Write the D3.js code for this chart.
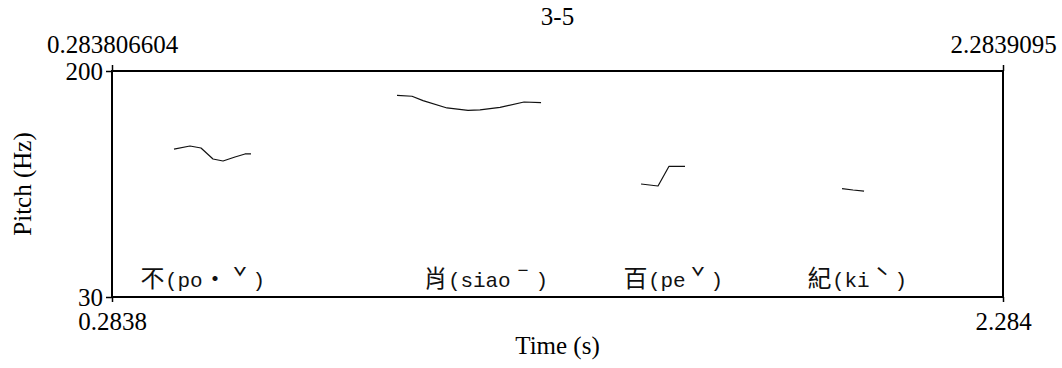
<!DOCTYPE html>
<html>
<head>
<meta charset="utf-8">
<script src="https://cdn.jsdelivr.net/npm/d3@7"></script>
<style>
  html, body { margin: 0; padding: 0; background: #fff; }
  svg { display: block; }
</style>
</head>
<body>
<svg id="chart" width="1062" height="368"></svg>
<script>
// Time window of the selection (s) and pitch range (Hz)
const timeRange = [0.283806604, 2.2839095];
const pitchRange = [30, 200];
const topTickValues = [0.283806604, 2.2839095];
const bottomTickValues = [0.283806604, 2.2839095];
const pitchTickValues = [30, 200];
const chartTitle = "3-5";

// Pitch contours, one per voiced syllable: [time (s), F0 (Hz)]
const buPitch = [
  [0.4230, 141.3], [0.4589, 143.6], [0.4836, 142.1], [0.5105, 133.8],
  [0.5330, 132.3], [0.5599, 135.3], [0.5824, 137.6], [0.5958, 137.6]
];
const xiaoPitch = [
  [0.9236, 181.7], [0.9573, 181.0], [0.9820, 177.7], [1.0358, 172.2],
  [1.0830, 170.4], [1.1099, 170.7], [1.1548, 172.7], [1.2087, 176.7],
  [1.2469, 176.2]
];
const baiPitch = [
  [1.4714, 115.0], [1.5095, 113.5], [1.5342, 128.3], [1.5701, 128.3]
];
const jiPitch = [
  [1.9226, 111.5], [1.9473, 110.5], [1.9720, 109.7]
];
const contours = [buPitch, xiaoPitch, baiPitch, jiPitch];

// Syllable annotations and the times where they start
const syllableLabels = ["不(po・ˇ)", "肖(siaoˉ)", "百(peˇ)", "紀(kiˋ)"];
const syllableTimes = [0.3467, 0.9820, 1.4309, 1.8440];
const syllablePitch = [37.5, 37.5, 37.5, 37.5];

const margin = { left: 112, right: 59, top: 71, bottom: 71 };
const W = 1062, H = 368;
const innerW = W - margin.left - margin.right;
const innerH = H - margin.top - margin.bottom;

const svg = d3.select("#chart");
const serif = "'Liberation Serif', 'Times New Roman', serif";
const fontSize = 25;

const x = d3.scaleLinear().domain(timeRange).range([margin.left, margin.left + innerW]);
const y = d3.scaleLinear().domain(pitchRange).range([margin.top + innerH, margin.top]);

// Pitch curves
const line = d3.line().x(d => x(d[0])).y(d => y(d[1]));
svg.append("g")
  .selectAll("path")
  .data(contours)
  .join("path")
  .attr("d", line)
  .attr("fill", "none")
  .attr("stroke", "#111")
  .attr("stroke-width", 1.2)
  .attr("stroke-linejoin", "round");

// Syllable labels laid out on a full/half-width character grid
const fullCell = 25, halfCell = 12.5;
const isWide = ch => ch.charCodeAt(0) > 0x2c0;
const labelG = svg.append("g");
syllableLabels.forEach((lab, i) => {
  const t = labelG.append("text")
    .attr("y", y(syllablePitch[i]))
    .attr("fill", "#111");
  let cx = x(syllableTimes[i]);
  Array.from(lab).forEach(ch => {
    const w = isWide(ch) ? fullCell : halfCell;
    t.append("tspan")
      .attr("x", cx + w / 2)
      .attr("text-anchor", "middle")
      .attr("font-family", isWide(ch) ? "'Noto Sans CJK TC', sans-serif" : "'Liberation Mono', monospace")
      .attr("font-size", isWide(ch) ? 24 : 21)
      .text(ch);
    cx += w;
  });
});

// Frame
svg.append("rect")
  .attr("x", margin.left).attr("y", margin.top)
  .attr("width", innerW).attr("height", innerH)
  .attr("fill", "none").attr("stroke", "#000").attr("stroke-width", 2);

function styleAxis(g) {
  g.select(".domain").remove();
  g.selectAll(".tick line").attr("stroke", "#000").attr("stroke-width", 1.5);
  g.selectAll("text").attr("font-family", serif).attr("font-size", fontSize).attr("fill", "#000");
}

// Top axis: exact selection bounds
svg.append("g")
  .attr("transform", `translate(0,${margin.top})`)
  .call(d3.axisTop(x).tickValues(topTickValues).tickSize(6).tickPadding(12)
    .tickFormat(d => d === topTickValues[0] ? "0.283806604" : "2.2839095"))
  .call(styleAxis);

// Bottom axis: rounded bounds
svg.append("g")
  .attr("transform", `translate(0,${margin.top + innerH})`)
  .call(d3.axisBottom(x).tickValues(bottomTickValues).tickSize(5).tickPadding(10)
    .tickFormat(d3.format(".4r")))
  .call(styleAxis);

// Left axis: pitch range
svg.append("g")
  .attr("transform", `translate(${margin.left},0)`)
  .call(d3.axisLeft(y).tickValues(pitchTickValues).tickSize(6).tickPadding(3)
    .tickFormat(d3.format("d")))
  .call(styleAxis);

// Title and axis titles
svg.append("text")
  .attr("x", margin.left + innerW / 2).attr("y", 25)
  .attr("text-anchor", "middle")
  .attr("font-family", serif).attr("font-size", fontSize)
  .text(chartTitle);

svg.append("text")
  .attr("x", margin.left + innerW / 2).attr("y", 354)
  .attr("text-anchor", "middle")
  .attr("font-family", serif).attr("font-size", fontSize)
  .text("Time (s)");

svg.append("text")
  .attr("transform", `translate(31,${margin.top + innerH / 2}) rotate(-90)`)
  .attr("text-anchor", "middle")
  .attr("font-family", serif).attr("font-size", fontSize)
  .text("Pitch (Hz)");
</script>
</body>
</html>
